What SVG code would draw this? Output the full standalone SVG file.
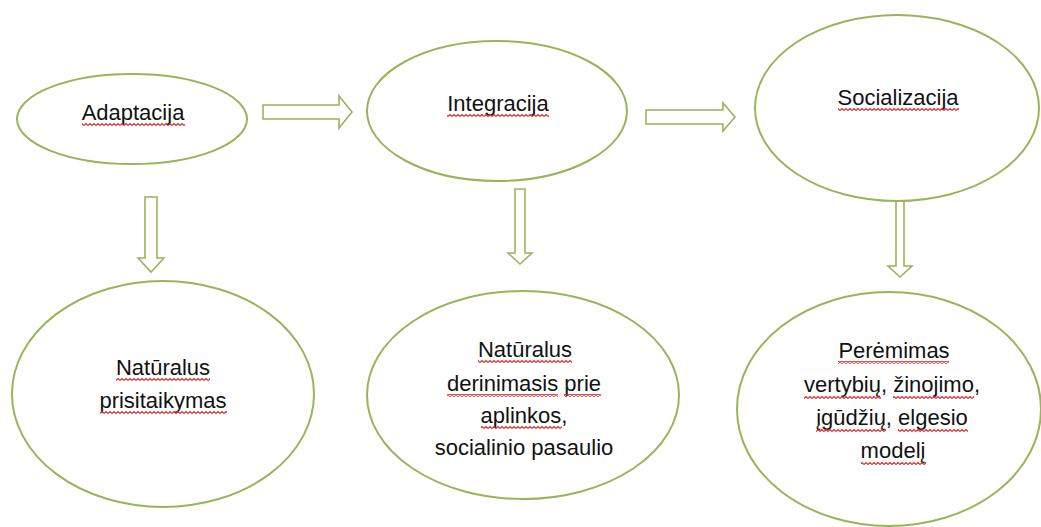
<svg xmlns="http://www.w3.org/2000/svg" width="1041" height="527" viewBox="0 0 1041 527">
<defs>
<pattern id="wave" patternUnits="userSpaceOnUse" width="4" height="3">
<path d="M0,2.5 L2,0.5 L4,2.5" fill="none" stroke="#e02828" stroke-width="1.1"/>
</pattern>
<style>
.node{fill:#ffffff;stroke:#9bb359;stroke-width:2}
.arrow{fill:#ffffff;stroke:#9bb359;stroke-width:1.6;stroke-linejoin:miter}
.t{font-family:"Liberation Sans",Arial,sans-serif;font-size:22px;fill:#111111;text-anchor:middle}
.sp{fill:url(#wave)}
</style>
</defs>
<rect width="1041" height="527" fill="#ffffff"/>
<g id="connectors">
<polygon class="arrow" points="263,105 339,105 339,96 352,112 339,128 339,119 263,119"/>
<polygon class="arrow" points="646,110 723,110 723,103 735,117 723,131 723,124 646,124"/>
<polygon class="arrow" points="145,197 157,197 157,258 164,258 151,272 138,258 145,258"/>
<polygon class="arrow" points="515,189 525,189 525,253 532,253 520,264 508,253 515,253"/>
<polygon class="arrow" points="896,197 904,197 904,266 912,266 900,277 888,266 896,266"/>
</g>
<g id="adaptacija">
<ellipse class="node" cx="132" cy="119" rx="115" ry="45"/>
<text class="t" x="133" y="120">Adaptacija</text>
<rect class="sp" x="82" y="123" width="103" height="3"/>
</g>
<g id="integracija">
<ellipse class="node" cx="497" cy="111" rx="130" ry="70"/>
<text class="t" x="498" y="111">Integracija</text>
<rect class="sp" x="447" y="114" width="102" height="3"/>
</g>
<g id="socializacija">
<ellipse class="node" cx="897" cy="108" rx="142" ry="93"/>
<text class="t" x="898" y="105">Socializacija</text>
<rect class="sp" x="838" y="108" width="121" height="3"/>
</g>
<g id="naturalus-prisitaikymas">
<ellipse class="node" cx="163" cy="394" rx="151" ry="113"/>
<text class="t" x="163" y="375">Natūralus</text>
<text class="t" x="163" y="408">prisitaikymas</text>
<rect class="sp" x="116" y="378" width="94" height="3"/>
<rect class="sp" x="100" y="411" width="127" height="3"/>
</g>
<g id="naturalus-derinimasis">
<ellipse class="node" cx="523" cy="395" rx="156" ry="104"/>
<text class="t" x="525" y="357">Natūralus</text>
<text class="t" x="524" y="391">derinimasis prie</text>
<text class="t" x="524" y="423">aplinkos,</text>
<text class="t" x="524" y="455">socialinio pasaulio</text>
<rect class="sp" x="478" y="360" width="94" height="3"/>
<rect class="sp" x="447" y="394" width="111" height="3"/>
<rect class="sp" x="564" y="394" width="37" height="3"/>
<rect class="sp" x="481" y="426" width="81" height="3"/>
</g>
<g id="peremimas">
<ellipse class="node" cx="889" cy="409" rx="152" ry="117"/>
<text class="t" x="894" y="358">Perėmimas</text>
<text class="t" x="892" y="392">vertybių, žinojimo,</text>
<text class="t" x="892" y="425">įgūdžių, elgesio</text>
<text class="t" x="893" y="458">modelį</text>
<rect class="sp" x="838" y="361" width="111" height="3"/>
<rect class="sp" x="804" y="396" width="77" height="3"/>
<rect class="sp" x="893" y="396" width="81" height="3"/>
<rect class="sp" x="816" y="429" width="70" height="3"/>
<rect class="sp" x="898" y="429" width="70" height="3"/>
<rect class="sp" x="861" y="462" width="65" height="3"/>
</g>
</svg>
